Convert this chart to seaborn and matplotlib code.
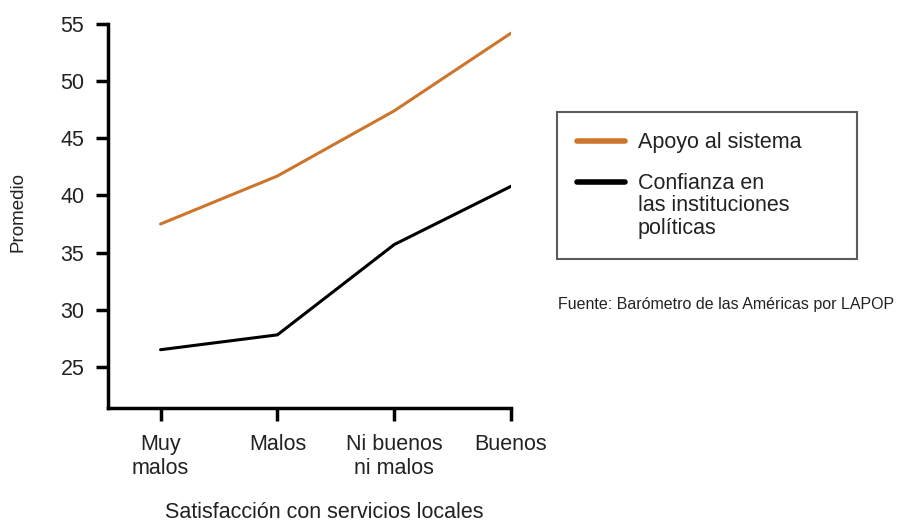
import pandas as pd
import matplotlib.pyplot as plt
import seaborn as sns
from matplotlib.legend_handler import HandlerLine2D

categorias = ["Muy\nmalos", "Malos", "Ni buenos\nni malos", "Buenos"]
apoyo = [37.5, 41.7, 47.4, 54.2]
confianza = [26.5, 27.8, 35.7, 40.8]

serie_apoyo = "Apoyo al sistema"
serie_confianza = "Confianza en\nlas instituciones\npolíticas"

df = pd.DataFrame({
    "pos": list(range(len(categorias))) * 2,
    "valor": apoyo + confianza,
    "serie": [serie_apoyo] * 4 + [serie_confianza] * 4,
})

naranja = "#cd752c"
texto = "#222222"

sns.set_style("white")
plt.rcParams["font.family"] = ["Liberation Sans", "DejaVu Sans"]


class HandlerArriba(HandlerLine2D):
    # sube la linea del legend a la primera fila del texto
    def __init__(self, shift, **kw):
        super().__init__(**kw)
        self.shift = shift

    def create_artists(self, legend, orig_handle, xdescent, ydescent, width, height, fontsize, trans):
        arts = super().create_artists(legend, orig_handle, xdescent, ydescent, width, height, fontsize, trans)
        for a in arts:
            a.set_ydata(a.get_ydata() + self.shift)
        return arts


fig = plt.figure(figsize=(8.97, 5.22), dpi=100)
ax = fig.add_axes([0.1204, 0.2184, 0.4493, 0.7356])

sns.lineplot(
    data=df, x="pos", y="valor", hue="serie",
    palette={serie_apoyo: naranja, serie_confianza: "#000000"},
    linewidth=2.2, ax=ax, legend=False
)

ax.set_xlim(-0.45, 3)
ax.set_ylim(21.4, 55)
ax.set_yticks([25, 30, 35, 40, 45, 50, 55])
ax.set_xticks(range(len(categorias)))
ax.set_xticklabels(categorias, fontsize=15.5, color=texto, linespacing=1.15)
ax.tick_params(axis="y", labelsize=15.5, labelcolor=texto)
ax.tick_params(direction="out", length=9, width=2.5, color="black", bottom=True, left=True)
ax.tick_params(axis="x", pad=10)
ax.tick_params(axis="y", pad=8)

for s in ["top", "right"]:
    ax.spines[s].set_visible(False)
for s in ["left", "bottom"]:
    ax.spines[s].set_linewidth(2.5)
    ax.spines[s].set_color("black")

ax.set_xlabel("Satisfacción con servicios locales", fontsize=15.5, color=texto, labelpad=17)
ax.xaxis.label.set_x(0.536)
ax.set_ylabel("")
fig.text(0.02, 0.594, "Promedio", rotation=90, fontsize=13.5, color=texto, ha="center", va="center")

handles = [
    plt.Line2D([], [], color=naranja, linewidth=4),
    plt.Line2D([], [], color="#000000", linewidth=4),
]
leg = fig.legend(
    handles, [serie_apoyo, serie_confianza],
    loc="upper left", bbox_to_anchor=(0.621, 0.504, 0.3344, 0.282), mode="expand",
    fontsize=15.5, frameon=True, fancybox=False, handlelength=2.2,
    handletextpad=0.6, borderpad=0.95, labelspacing=0.9, borderaxespad=0,
    handler_map={handles[1]: HandlerArriba(17)}
)
leg.get_frame().set_edgecolor("#333333")
leg.get_frame().set_linewidth(1.5)
for t in leg.get_texts():
    t.set_color(texto)
    t.set_linespacing(1.1)

fig.text(0.622, 0.417, "Fuente: Barómetro de las Américas por LAPOP", fontsize=11.5, color=texto, va="center")

fig.savefig("out.png", dpi=100)
